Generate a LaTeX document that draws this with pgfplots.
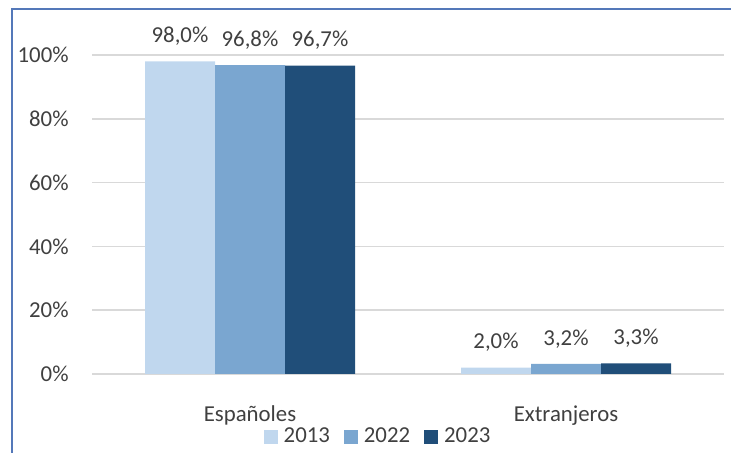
\documentclass[border=0pt]{standalone}
\usepackage{fontspec}
\setmainfont{Carlito}
\usepackage{pgfplots}
\pgfplotsset{compat=1.18}
\definecolor{cA}{RGB}{192,215,238}
\definecolor{cB}{RGB}{122,166,208}
\definecolor{cC}{RGB}{32,78,121}
\definecolor{framec}{RGB}{84,120,185}
\definecolor{gridc}{RGB}{217,217,217}
\definecolor{txt}{RGB}{64,64,64}
\begin{document}
\fontsize{11.4}{13.7}\selectfont
\begin{tikzpicture}
\useasboundingbox (0,0) rectangle (365.5pt,226.5pt);
\draw[framec, line width=1pt] (6pt,0) -- (6pt,222pt) -- (365.5pt,222pt);
\begin{axis}[
  at={(46pt,39.5pt)}, anchor=south west,
  scale only axis, width=316pt, height=159.5pt,
  ybar=0pt, bar width=35pt,
  xmin=-0.5, xmax=1.5, ymin=0, ymax=100,
  xtick={0,1}, xticklabels={Españoles,Extranjeros},
  ytick={0,20,...,100},
  ymajorgrids, grid style={gridc, line width=0.75pt},
  axis line style={draw=none}, tick style={draw=none},
  /pgf/number format/assume math mode=true,
  yticklabel={\pgfmathprintnumber{\tick}\%},
  every tick label/.append style={text=txt, font=\fontsize{11.4}{13.7}\selectfont},
  yticklabel style={anchor=east, inner sep=0pt, xshift=-11.5pt},
  xticklabel style={anchor=base, inner sep=0pt, yshift=-19.3pt},
  point meta=y,
  nodes near coords={\pgfmathprintnumber[fixed,fixed zerofill,precision=1,use comma,assume math mode=true]{\pgfplotspointmeta}\%},
  every node near coord/.append style={anchor=center, yshift=12.5pt, text=txt, inner sep=0pt, font=\fontsize{11.4}{13.7}\selectfont},
  legend columns=3,
  legend style={at={(0.451,-0.1975)}, anchor=center, draw=none, fill=none,
    /tikz/every odd column/.append style={column sep=3pt},
    /tikz/every even column/.append style={column sep=7pt},
    nodes={inner sep=0pt, text=txt}, font=\fontsize{11.4}{13.7}\selectfont},
  legend image code/.code={\fill[#1] (0pt,-3.5pt) rectangle (7pt,3.5pt);},
]
\addplot[fill=cA, draw=none] coordinates {(0,98.0) (1,2.0)};
\addplot[fill=cB, draw=none] coordinates {(0,96.8) (1,3.2)};
\addplot[fill=cC, draw=none] coordinates {(0,96.7) (1,3.3)};
\legend{2013,2022,2023}
\end{axis}
\end{tikzpicture}
\end{document}
